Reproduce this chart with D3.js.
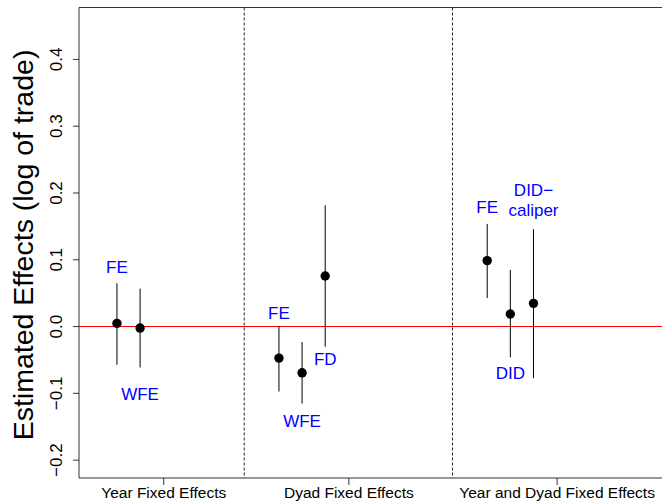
<!DOCTYPE html>
<html>
<head>
<meta charset="utf-8">
<script src="https://cdn.jsdelivr.net/npm/d3@7"></script>
<style>
  body { margin: 0; background: #fff; }
  svg { display: block; font-family: "Liberation Sans", Arial, Helvetica, sans-serif; }
</style>
</head>
<body>
<script>
// Data: estimates with confidence intervals, grouped by specification
const methods   = ['FE', 'WFE', 'FE', 'WFE', 'FD', 'FE', 'DID', 'DID\u2212caliper'];
const xSlot     = [0, 1, 7, 8, 9, 16, 17, 18];
const estimate  = [0.004, -0.003, -0.048, -0.070, 0.075, 0.098, 0.018, 0.034];
const lower     = [-0.058, -0.062, -0.098, -0.116, -0.031, 0.042, -0.047, -0.078];
const upper     = [0.064, 0.056, 0.000, -0.024, 0.181, 0.153, 0.084, 0.145];
const labelAt   = [0.079, -0.111, 0.0105, -0.151, -0.058, 0.169, -0.079, 0.195];

const groups     = ['Year Fixed Effects', 'Dyad Fixed Effects', 'Year and Dyad Fixed Effects'];
const groupSlot  = [2, 10, 19];
const dividers   = [5.5, 14.5];
const yTicks     = [-0.2, -0.1, 0.0, 0.1, 0.2, 0.3, 0.4];

const W = 662, H = 502;
const plot = { left: 79, right: 670, top: 7.5, bottom: 478 };

const svg = d3.select('body').append('svg')
  .attr('width', W)
  .attr('height', H);

const x = d3.scaleLinear()
  .domain([-1.64, 23.9])
  .range([plot.left, plot.right]);

const y = d3.scaleLinear()
  .domain([-0.2275, 0.477])
  .range([plot.bottom, plot.top]);

const fmt = v => d3.format('.1f')(v).replace('-', '\u2212');

// Zero reference line
const y0 = Math.round(y(0)) + 0.5;
svg.append('line')
  .attr('x1', plot.left).attr('x2', W)
  .attr('y1', y0).attr('y2', y0)
  .attr('stroke', '#ff0000').attr('stroke-width', 1);

// Group dividers
svg.selectAll('.divider')
  .data(dividers)
  .enter().append('line')
  .attr('class', 'divider')
  .attr('x1', d => x(d)).attr('x2', d => x(d))
  .attr('y1', plot.top).attr('y2', plot.bottom)
  .attr('stroke', '#222')
  .attr('stroke-width', 1)
  .attr('stroke-dasharray', '3,2');

// Box (left, top, bottom)
svg.append('path')
  .attr('d', `M${W + 5},${plot.top}H${plot.left}V${plot.bottom}H${W + 5}`)
  .attr('fill', 'none')
  .attr('stroke', '#333')
  .attr('stroke-width', 1);

// Y axis
const yAxis = svg.append('g')
  .attr('transform', `translate(${plot.left},0)`)
  .call(d3.axisLeft(y).tickValues(yTicks).tickSize(6).tickFormat(fmt));
yAxis.select('.domain').remove();
yAxis.selectAll('line').attr('stroke', '#333');
yAxis.selectAll('text')
  .attr('x', null).attr('dy', null)
  .attr('transform', 'translate(-17,0) rotate(-90)')
  .attr('text-anchor', 'middle')
  .attr('font-size', 17)
  .attr('font-family', '"Liberation Sans", Arial, sans-serif')
  .attr('fill', '#000');

// X axis
const xAxis = svg.append('g')
  .attr('transform', `translate(0,${plot.bottom})`)
  .call(d3.axisBottom(x).tickValues(groupSlot).tickSize(7)
    .tickFormat((d, i) => groups[i]));
xAxis.select('.domain').remove();
xAxis.selectAll('line').attr('stroke', '#333');
xAxis.selectAll('text')
  .attr('y', 20).attr('dy', null)
  .attr('font-size', 15.5)
  .attr('font-family', '"Liberation Sans", Arial, sans-serif')
  .attr('fill', '#000');

// Y axis title
svg.append('text')
  .attr('transform', `translate(33,${(44 + 446) / 2}) rotate(-90)`)
  .attr('text-anchor', 'middle')
  .attr('font-size', 28.5)
  .text('Estimated Effects (log of trade)');

// Confidence intervals
svg.selectAll('.ci')
  .data(d3.range(methods.length))
  .enter().append('line')
  .attr('class', 'ci')
  .attr('x1', i => x(xSlot[i])).attr('x2', i => x(xSlot[i]))
  .attr('y1', i => y(lower[i])).attr('y2', i => y(upper[i]))
  .attr('stroke', '#000').attr('stroke-width', 1);

// Point estimates
svg.selectAll('.pt')
  .data(d3.range(methods.length))
  .enter().append('circle')
  .attr('class', 'pt')
  .attr('cx', i => x(xSlot[i]))
  .attr('cy', i => y(estimate[i]))
  .attr('r', 4.7)
  .attr('fill', '#000');

// Method labels
const lbl = svg.selectAll('.lbl')
  .data(d3.range(methods.length))
  .enter().append('text')
  .attr('class', 'lbl')
  .attr('x', i => x(xSlot[i]))
  .attr('y', i => y(labelAt[i]))
  .attr('text-anchor', 'middle')
  .attr('font-size', 17)
  .attr('fill', '#0000ff');

lbl.each(function (i) {
  const parts = methods[i].split('\u2212');
  const t = d3.select(this);
  if (parts.length > 1) {
    t.append('tspan').attr('x', x(xSlot[i])).text(parts[0] + '\u2212');
    t.append('tspan').attr('x', x(xSlot[i])).attr('dy', 20).text(parts[1]);
  } else {
    t.text(methods[i]);
  }
});
</script>
</body>
</html>
